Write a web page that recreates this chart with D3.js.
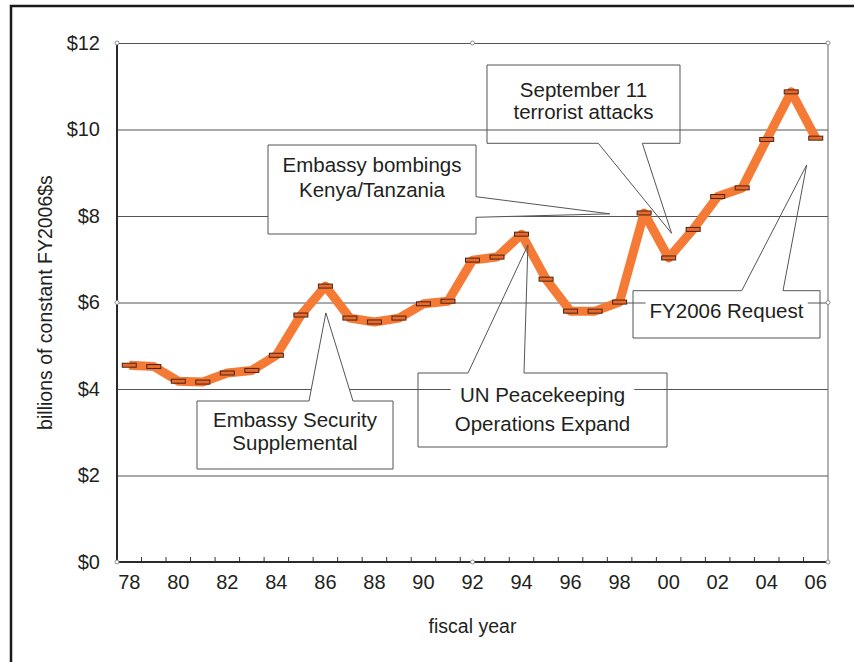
<!DOCTYPE html>
<html>
<head>
<meta charset="utf-8">
<script src="https://cdn.jsdelivr.net/npm/d3@7"></script>
<style>
  body { margin: 0; background: #fff; }
  svg text { font-family: "Liberation Sans", Arial, sans-serif; fill: #231f20; }
</style>
</head>
<body>
<div id="chart-container"></div>
<script>
// fiscal years and spending (billions of constant FY2006 dollars)
var years = ["78","79","80","81","82","83","84","85","86","87","88","89","90","91","92",
             "93","94","95","96","97","98","99","00","01","02","03","04","05","06"];
var spending = [4.55, 4.52, 4.18, 4.16, 4.37, 4.43, 4.78, 5.71, 6.38, 5.64, 5.55, 5.64, 5.97, 6.03, 6.98,
                7.05, 7.58, 6.54, 5.80, 5.80, 6.01, 8.07, 7.03, 7.69, 8.45, 8.65, 9.77, 10.87, 9.80];
var yTicks = [0, 2, 4, 6, 8, 10, 12];
var xLabels = ["78","80","82","84","86","88","90","92","94","96","98","00","02","04","06"];

// callouts: tip given in data space (year index, value)
var notes = [
    {lines: ["Embassy Security", "Supplemental"], tip: [8.02, 5.76], fill: "#fff"},
    {lines: ["Embassy bombings", "Kenya/Tanzania"], tip: [19.6, 8.05], fill: "#fff"},
    {lines: ["September 11", "terrorist attacks"], tip: [22.12, 7.6], fill: "none"},
    {lines: ["UN Peacekeeping", "Operations Expand"], tip: [16.26, 7.33], fill: "none"},
    {lines: ["FY2006 Request"], tip: [27.63, 9.18], fill: "none"}
];
// box geometry in pixels (layout only)
var noteLayout = [
    {box: [197, 401, 393, 469], side: "top", base: [309, 353], base0: 426.5, lh: 23.5},
    {box: [268, 145, 476, 234], side: "right", base: [196.7, 217.3], base0: 171.5, lh: 25},
    {box: [487, 65, 680, 143.3], side: "bottom", base: [598.3, 642.3], base0: 96.5, lh: 22.5},
    {box: [418, 373, 667, 447], side: "top", base: [468, 524], base0: 401.5, lh: 29},
    {box: [633, 290.7, 820, 338], side: "top", base: [741.7, 783], base0: 318, lh: 0}
];

var W = 854, H = 662;
var margin = {left: 117, top: 43, right: 26, bottom: 100};
var width = W - margin.left - margin.right;
var height = H - margin.top - margin.bottom;

var svg = d3.select("#chart-container")
    .append("svg")
    .attr("width", W)
    .attr("height", H);

// outer frame
svg.append("rect")
    .attr("x", 11).attr("y", 6)
    .attr("width", 900).attr("height", 700)
    .attr("fill", "none")
    .attr("stroke", "#1a1a1a")
    .attr("stroke-width", 2.5);

var g = svg.append("g")
    .attr("transform", "translate(" + margin.left + "," + margin.top + ")");

var x = d3.scaleBand()
    .domain(years)
    .range([0, width])
    .padding(0);

var xi = d3.scaleLinear()
    .domain([0, years.length - 1])
    .range([x.bandwidth() / 2, width - x.bandwidth() / 2]);

var y = d3.scaleLinear()
    .domain([0, 12])
    .range([height, 0]);

// gridlines + y labels
var yAxis = d3.axisLeft(y)
    .tickValues(yTicks)
    .tickSizeInner(-width)
    .tickSizeOuter(0)
    .tickPadding(17)
    .tickFormat(function(d) { return "$" + d; });

var gy = g.append("g")
    .attr("class", "y-axis")
    .call(yAxis);
gy.select(".domain").remove();
gy.selectAll("line").attr("stroke", "#555").attr("stroke-width", 1);
gy.selectAll("text").attr("font-size", "20px").attr("fill", "#231f20");

// right border of plot
g.append("line")
    .attr("x1", width).attr("x2", width)
    .attr("y1", 0).attr("y2", height)
    .attr("stroke", "#666").attr("stroke-width", 1);

// x labels
var xAxis = d3.axisBottom(x)
    .tickValues(xLabels)
    .tickSize(0)
    .tickPadding(13);

var gx = g.append("g")
    .attr("class", "x-axis")
    .attr("transform", "translate(0," + height + ")")
    .call(xAxis);
gx.select(".domain").remove();
gx.selectAll("text").attr("font-size", "20px").attr("fill", "#231f20");

// small ticks at category boundaries
g.selectAll("line.xtick")
    .data(years)
    .enter().append("line")
    .attr("class", "xtick")
    .attr("x1", function(d) { return x(d); })
    .attr("x2", function(d) { return x(d); })
    .attr("y1", height)
    .attr("y2", height - 5)
    .attr("stroke", "#333");

// axis lines
g.append("line")
    .attr("x1", 0).attr("x2", width)
    .attr("y1", height).attr("y2", height)
    .attr("stroke", "#2a2a2a").attr("stroke-width", 2);
g.append("line")
    .attr("x1", 0).attr("x2", 0)
    .attr("y1", 0).attr("y2", height)
    .attr("stroke", "#2a2a2a").attr("stroke-width", 2);

// the series
g.append("path")
    .datum(spending)
    .attr("fill", "none")
    .attr("stroke", "#f47a36")
    .attr("stroke-width", 9)
    .attr("stroke-linejoin", "round")
    .attr("d", d3.line()
        .x(function(d, i) { return xi(i); })
        .y(function(d) { return y(d); }));

g.selectAll("rect.mark")
    .data(spending)
    .enter().append("rect")
    .attr("class", "mark")
    .attr("x", function(d, i) { return xi(i) - 7; })
    .attr("y", function(d) { return y(d) - 2; })
    .attr("width", 14)
    .attr("height", 4)
    .attr("fill", "#e8692e")
    .attr("stroke", "#4a2410")
    .attr("stroke-width", 1);

// selection handles around plot area
var handles = [[0, 0], [0.5, 0], [1, 0], [0, 0.5], [1, 0.5], [0, 1], [0.5, 1], [1, 1]];
g.selectAll("circle.handle")
    .data(handles)
    .enter().append("circle")
    .attr("class", "handle")
    .attr("cx", function(d) { return d[0] * width; })
    .attr("cy", function(d) { return d[1] * height; })
    .attr("r", 2)
    .attr("fill", "#fff")
    .attr("stroke", "#777")
    .attr("stroke-width", 0.8);

// callouts (page coordinates)
var cg = svg.append("g");
notes.forEach(function(n, k) {
    var L = noteLayout[k];
    var b = L.box;
    var tx = margin.left + xi(n.tip[0]);
    var ty = margin.top + y(n.tip[1]);
    var p;
    if (L.side == "top") {
        p = [[b[0], b[1]], [L.base[0], b[1]], [tx, ty], [L.base[1], b[1]], [b[2], b[1]],
             [b[2], b[3]], [b[0], b[3]]];
    } else if (L.side == "bottom") {
        p = [[b[0], b[1]], [b[2], b[1]], [b[2], b[3]], [L.base[1], b[3]], [tx, ty],
             [L.base[0], b[3]], [b[0], b[3]]];
    } else {
        p = [[b[0], b[1]], [b[2], b[1]], [b[2], L.base[0]], [tx, ty], [b[2], L.base[1]],
             [b[2], b[3]], [b[0], b[3]]];
    }
    cg.append("path")
        .attr("d", "M" + p.join("L") + "Z")
        .attr("fill", n.fill)
        .attr("stroke", "#555")
        .attr("stroke-width", 1);

    var cx = (b[0] + b[2]) / 2;
    var tg = cg.append("g");
    var bg = tg.append("rect").attr("fill", "#fff");
    n.lines.forEach(function(s, j) {
        tg.append("text")
            .attr("x", cx)
            .attr("y", L.base0 + j * L.lh)
            .attr("text-anchor", "middle")
            .attr("font-size", "20.5px")
            .text(s);
    });
    var bb = tg.node().getBBox();
    bg.attr("x", bb.x - 4).attr("y", bb.y)
      .attr("width", bb.width + 8).attr("height", bb.height);
});

// axis titles
svg.append("text")
    .attr("transform", "translate(52," + (margin.top + height / 2) + ") rotate(-90)")
    .attr("text-anchor", "middle")
    .attr("font-size", "19.5px")
    .text("billions of constant FY2006$s");

svg.append("text")
    .attr("x", margin.left + width / 2)
    .attr("y", 633)
    .attr("text-anchor", "middle")
    .attr("font-size", "19.5px")
    .text("fiscal year");
</script>
</body>
</html>
